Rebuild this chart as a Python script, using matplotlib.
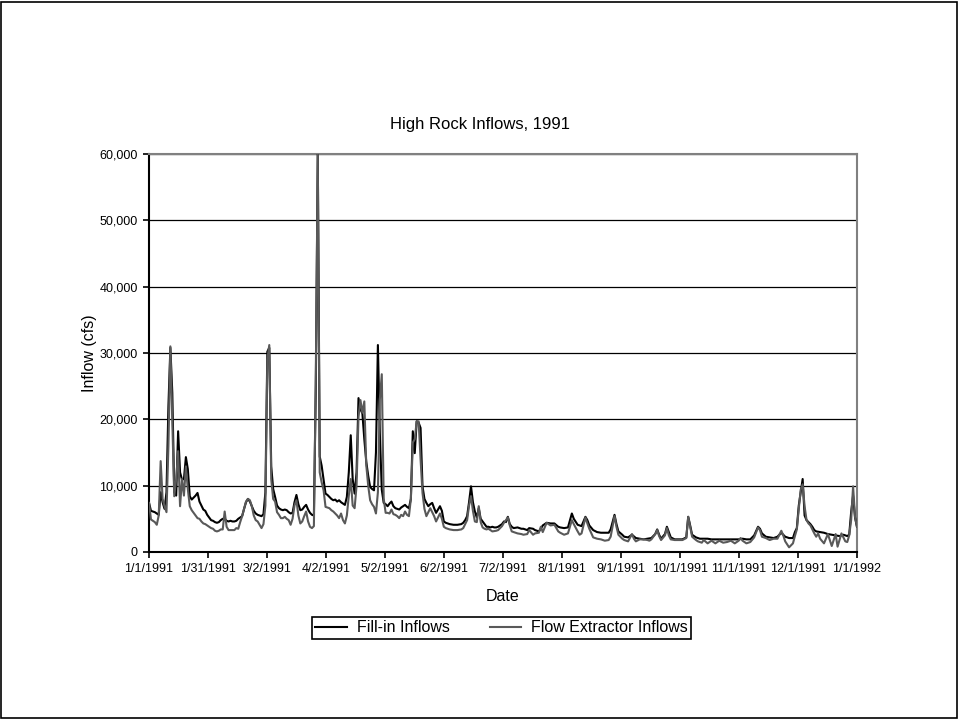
import matplotlib.pyplot as plt
from matplotlib.patches import Rectangle
from matplotlib.ticker import FuncFormatter

plt.rcParams['font.family'] = ['Liberation Sans', 'DejaVu Sans']

# day index from 1/1/1991 (0) to 1/1/1992 (365)
fill_days = [0, 1, 3, 5, 6, 7, 8, 9, 10, 11, 12, 13, 14, 15, 16, 17, 18, 19, 20, 21, 22, 23, 24, 25, 26, 27,
             28, 29, 30, 31, 32, 33, 34, 35, 36, 37, 38, 39, 40, 41, 42, 43, 44, 45, 46, 47, 48, 49, 50, 51,
             52, 53, 54, 55, 56, 57, 58, 59, 60, 61, 62, 63, 64, 65, 66, 67, 68, 69, 70, 71, 72, 73, 74, 75,
             76, 77, 78, 79, 80, 81, 82, 83, 84, 85, 86, 87, 88, 89, 90, 91, 92, 93, 94, 95, 96, 97, 98, 99,
             100, 101, 102, 103, 104, 105, 106, 107, 108, 109, 110, 111, 112, 113, 114, 115, 116, 117, 118,
             119, 120, 121, 122, 123, 124, 125, 126, 127, 128, 129, 130, 131, 132, 133, 134, 135, 136, 137,
             138, 139, 140, 141, 142, 143, 144, 145, 146, 147, 148, 149, 150, 151, 152, 153, 154, 155, 157,
             159, 161, 162, 163, 164, 165, 166, 167, 168, 169, 170, 171, 172, 173, 174, 175, 176, 177, 178,
             179, 180, 182, 183, 184, 185, 186, 187, 188, 190, 192, 193, 195, 196, 198, 199, 201, 202, 203,
             205, 207, 209, 211, 212, 214, 216, 218, 219, 221, 223, 225, 226, 227, 229, 231, 233, 235, 237,
             238, 240, 241, 242, 244, 245, 247, 249, 251, 253, 255, 257, 259, 261, 262, 263, 264, 266, 267,
             268, 269, 271, 273, 275, 277, 278, 279, 280, 282, 284, 286, 288, 290, 292, 294, 296, 298, 300,
             302, 304, 306, 308, 310, 312, 314, 315, 316, 318, 320, 322, 324, 326, 327, 328, 330, 332, 333,
             334, 335, 336, 337, 338, 339, 340, 341, 342, 343, 344, 346, 348, 350, 352, 354, 356, 358, 360,
             361, 362, 363, 364, 365]
fill_vals = [7400, 6200, 6000, 5600, 9000, 7500, 6500, 9000, 22000, 30800, 24000, 9000, 8500, 18200, 12000,
             10900, 11000, 14300, 12500, 8400, 7900, 8200, 8500, 8900, 7600, 7000, 6400, 6200, 5600, 5200,
             4800, 4700, 4500, 4400, 4500, 4800, 5000, 5000, 4700, 4600, 4700, 4600, 4600, 4700, 5000, 5200,
             5400, 6500, 7500, 8000, 7600, 6900, 6200, 5800, 5600, 5500, 5400, 5700, 9000, 30200, 30800,
             12900, 9500, 8300, 7000, 6600, 6400, 6300, 6400, 6300, 6000, 5800, 5900, 7500, 8600, 7200, 6300,
             6400, 6800, 7100, 6400, 5900, 5600, 5500, 25000, 60000, 14400, 13000, 10900, 8800, 8600, 8300,
             8000, 7800, 7900, 7600, 7800, 7500, 7300, 7100, 8300, 12000, 17600, 11000, 8800, 12000, 23200,
             21500, 20900, 17000, 13600, 11500, 9800, 9500, 9300, 15000, 31200, 18000, 9400, 7400, 7200, 6900,
             7300, 7600, 6900, 6600, 6500, 6400, 6700, 6900, 7100, 6800, 6600, 8000, 18200, 14900, 19700,
             19500, 18700, 9900, 8000, 7400, 6900, 7200, 7400, 6600, 5900, 6400, 6900, 6200, 4600, 4400, 4300,
             4200, 4100, 4100, 4200, 4400, 4800, 5400, 7500, 9900, 7500, 6100, 5200, 6600, 5000, 4600, 4200,
             3800, 3800, 3700, 3800, 3700, 3700, 3800, 4200, 4600, 4500, 5300, 4200, 3800, 3600, 3700, 3500,
             3500, 3300, 3600, 3500, 3300, 3100, 3500, 4000, 4400, 4300, 4300, 3800, 3700, 3600, 3700, 5800,
             5000, 4100, 3900, 5300, 4800, 4000, 3300, 3000, 2900, 2900, 2900, 3400, 5600, 4200, 3100, 2600,
             2300, 2200, 2600, 2100, 2000, 1900, 2000, 2100, 2700, 3400, 2600, 2000, 2700, 3800, 3000, 2200,
             1900, 1900, 1900, 2200, 5300, 4000, 2600, 2200, 2000, 2000, 2000, 1900, 1900, 1900, 1900, 1900,
             1900, 1900, 1900, 2000, 1900, 1900, 2500, 3800, 3500, 2800, 2300, 2200, 2100, 2300, 2900, 2600,
             2300, 2100, 2100, 3000, 3600, 7000, 9000, 11000, 5500, 4800, 4500, 4200, 3800, 3300, 3100, 3000,
             2900, 2700, 2600, 2500, 2400, 2600, 2400, 2600, 6000, 8500, 5200, 3800]

flow_days = [0, 1, 2, 3, 4, 5, 6, 7, 8, 9, 10, 11, 12, 13, 14, 15, 16, 17, 18, 19, 20, 21, 22, 23, 24, 25,
             26, 27, 28, 29, 30, 31, 32, 33, 34, 35, 36, 37, 38, 39, 40, 41, 42, 43, 44, 45, 46, 47, 48, 49,
             50, 51, 52, 53, 54, 55, 56, 57, 58, 59, 60, 61, 62, 63, 64, 65, 66, 67, 68, 69, 70, 71, 72, 73,
             74, 75, 76, 77, 78, 79, 80, 81, 82, 83, 84, 85, 86, 87, 88, 89, 90, 91, 92, 93, 94, 95, 96, 97,
             98, 99, 100, 101, 102, 103, 104, 105, 106, 107, 108, 109, 110, 111, 112, 113, 114, 115, 116,
             117, 118, 119, 120, 121, 122, 123, 124, 125, 126, 127, 128, 129, 130, 131, 132, 133, 134, 135,
             136, 137, 138, 139, 140, 141, 142, 143, 144, 145, 146, 147, 148, 149, 150, 151, 152, 153, 154,
             155, 157, 159, 161, 162, 163, 164, 165, 166, 167, 168, 169, 170, 171, 172, 173, 174, 175, 176,
             177, 179, 180, 182, 183, 185, 186, 187, 188, 190, 192, 193, 195, 196, 198, 199, 201, 202, 203,
             205, 207, 209, 211, 212, 214, 216, 218, 219, 221, 222, 223, 225, 226, 227, 229, 231, 233, 235,
             237, 238, 240, 241, 242, 244, 245, 247, 249, 250, 251, 253, 255, 257, 258, 259, 261, 262, 263,
             264, 266, 267, 268, 269, 271, 273, 275, 277, 278, 279, 280, 282, 283, 285, 286, 288, 290, 292,
             294, 296, 298, 300, 302, 304, 305, 306, 308, 310, 312, 314, 315, 316, 318, 320, 322, 324, 326,
             327, 328, 330, 332, 333, 334, 335, 336, 337, 338, 339, 340, 341, 342, 343, 344, 345, 346, 348,
             350, 352, 354, 355, 357, 359, 360, 361, 362, 363, 364, 365]
flow_vals = [7400, 4900, 4700, 4500, 4100, 5500, 13700, 8000, 6900, 6000, 16000, 31000, 20000, 8400, 11000,
             15200, 6900, 11000, 8500, 12900, 9500, 6900, 6300, 5900, 5500, 5100, 5000, 4600, 4300, 4200,
             4000, 3800, 3600, 3500, 3200, 3100, 3200, 3400, 3400, 6100, 3800, 3300, 3300, 3300, 3300, 3600,
             3500, 4500, 5400, 6500, 7600, 8000, 7800, 6900, 5500, 4800, 4600, 4100, 3600, 4200, 7000, 29000,
             31200, 11000, 8000, 7600, 6000, 5600, 5100, 5100, 5300, 5000, 4800, 4100, 5000, 7000, 7800, 5500,
             4300, 4600, 5400, 6100, 4600, 3800, 3600, 3900, 27000, 60000, 12000, 10500, 9300, 6800, 6700,
             6600, 6300, 6100, 5800, 5500, 5100, 5800, 4800, 4300, 5500, 8500, 11000, 7000, 6600, 10000,
             20400, 22900, 21000, 22700, 13100, 10000, 7800, 7200, 6800, 5800, 9000, 23000, 26800, 8000, 5900,
             5900, 5800, 6400, 5700, 5600, 5400, 5100, 5600, 5400, 6100, 5600, 5400, 8000, 16500, 17000,
             19700, 19700, 14000, 8900, 6500, 5400, 6000, 6600, 6000, 5400, 4600, 5200, 5800, 5000, 3800,
             3600, 3500, 3400, 3300, 3300, 3400, 3600, 4200, 4800, 7000, 8400, 6200, 4600, 4500, 6900, 4500,
             3700, 3500, 3400, 3500, 3300, 3100, 3200, 3300, 3900, 4400, 5200, 4000, 3100, 3000, 2800, 2700,
             2600, 2700, 3300, 2600, 2800, 2900, 3800, 3000, 4400, 4000, 4100, 3100, 2900, 2600, 2800, 4800,
             4200, 3100, 2600, 2800, 5200, 4300, 3500, 2200, 2000, 1900, 1700, 1800, 2300, 5400, 3800, 2600,
             2000, 1800, 1600, 2700, 2000, 1600, 1900, 1900, 1800, 1700, 1900, 2700, 3300, 2400, 1800, 2500,
             3600, 2500, 1900, 1800, 1800, 1800, 2100, 5300, 3800, 2300, 1800, 1600, 1400, 1800, 1300, 1700,
             1300, 1700, 1400, 1500, 1700, 1300, 1700, 2100, 1700, 1300, 1500, 2200, 3700, 3300, 2300, 2100,
             1800, 2000, 2000, 3200, 2500, 1600, 700, 1300, 2400, 3400, 6500, 9400, 10200, 6900, 4800, 4300,
             4000, 3400, 2800, 2300, 2800, 2000, 1300, 2700, 900, 2700, 800, 2800, 1600, 1500, 2500, 4800,
             9900, 5300, 3800]

tick_labels = ['1/1/1991', '1/31/1991', '3/2/1991', '4/2/1991', '5/2/1991', '6/2/1991', '7/2/1991',
               '8/1/1991', '9/1/1991', '10/1/1991', '11/1/1991', '12/1/1991', '1/1/1992']

fig = plt.figure(figsize=(9.59, 7.19), dpi=100)
ax = fig.add_axes([0.1554, 0.2323, 0.7382, 0.5535])

ax.plot(fill_days, fill_vals, color='black', lw=1.5, label='Fill-in Inflows', zorder=3)
ax.plot(flow_days, flow_vals, color='#595959', lw=1.5, label='Flow Extractor Inflows', zorder=4)

ax.set_xlim(0, 365)
ax.set_ylim(0, 60000)
ax.set_xticks([i * 365 / 12 for i in range(13)])
ax.set_xticklabels(tick_labels)
ax.set_yticks(range(0, 60001, 10000))
ax.yaxis.set_major_formatter(FuncFormatter(lambda v, p: f'{int(v):,}'))
ax.tick_params(direction='out', length=4, width=1.2, labelsize=9, pad=4, color='black')
ax.grid(axis='y', color='black', lw=0.9)
ax.set_axisbelow(True)

ax.spines['left'].set_color('black')
ax.spines['bottom'].set_color('black')
ax.spines['left'].set_linewidth(1.5)
ax.spines['bottom'].set_linewidth(1.5)
ax.spines['top'].set_color('#808080')
ax.spines['right'].set_color('#808080')
ax.spines['top'].set_linewidth(1.5)
ax.spines['right'].set_linewidth(1.5)

ax.set_xlabel('Date', fontsize=11.5, labelpad=10)
ax.set_ylabel('Inflow (cfs)', fontsize=11.5, labelpad=2)
fig.text(0.5, 1 - 124 / 719, 'High Rock Inflows, 1991', ha='center', va='center', fontsize=12)

leg = fig.legend(loc='center', bbox_to_anchor=(501.5 / 959, 1 - 628 / 719), ncol=2, fontsize=11.5,
                 frameon=True, fancybox=False, edgecolor='black', framealpha=1, handlelength=2.0,
                 columnspacing=2.5, borderpad=0.2, handletextpad=0.6)
leg.get_frame().set_linewidth(1.2)

fig.patches.append(Rectangle((0.001, 0.0015), 0.997, 0.996, transform=fig.transFigure,
                             fill=False, edgecolor='black', lw=1.2))

plt.savefig('out.png', dpi=100)
